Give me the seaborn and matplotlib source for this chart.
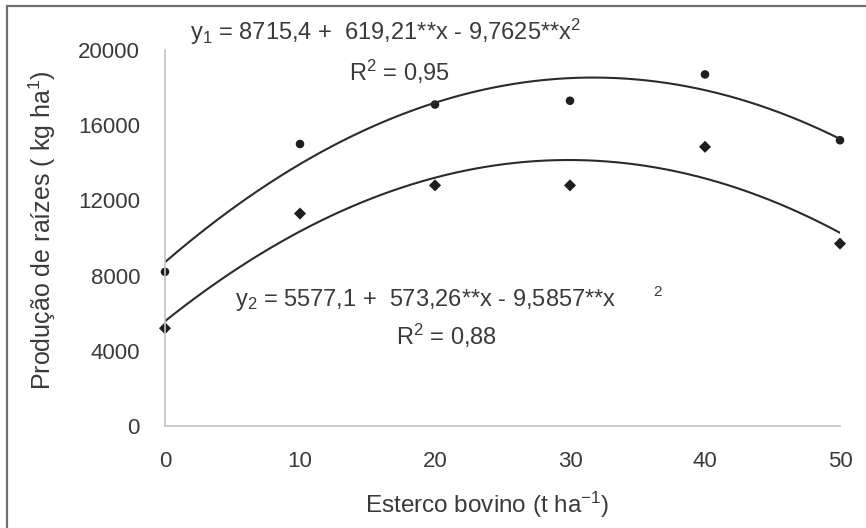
import numpy as np
import pandas as pd
import matplotlib
matplotlib.use("Agg")
import matplotlib.pyplot as plt
from matplotlib.patches import Rectangle
import seaborn as sns

# Dados
doses = [0, 10, 20, 30, 40, 50]
prod_1 = [8200, 15000, 17100, 17300, 18700, 15200]
prod_2 = [5200, 11300, 12800, 12800, 14850, 9700]

# coeficientes das equações ajustadas (b0, b1, b2)
coef_1 = [8715.4, 619.21, -9.7625]
coef_2 = [5577.1, 573.26, -9.5857]

sns.set_theme(style="white")
plt.rcParams['font.family'] = ['Liberation Sans', 'DejaVu Sans']
plt.rcParams['mathtext.fontset'] = 'custom'
plt.rcParams['mathtext.rm'] = 'Liberation Sans'
plt.rcParams['mathtext.it'] = 'Liberation Sans'

txt = '#3a3a3a'
spine = '#c4c4c4'

fig = plt.figure(figsize=(8.66, 5.28), dpi=100)
ax = fig.add_axes([165 / 866, 1 - 426 / 528, 675 / 866, 376 / 528])

pts = pd.DataFrame({'dose': doses * 2,
                    'prod': prod_1 + prod_2,
                    'serie': ['1'] * 6 + ['2'] * 6})

xs = np.linspace(0, 50, 200)
curvas = pd.DataFrame({
    'dose': np.concatenate([xs, xs]),
    'prod': np.concatenate([np.polyval(coef_1[::-1], xs), np.polyval(coef_2[::-1], xs)]),
    'serie': ['1'] * len(xs) + ['2'] * len(xs)})

sns.lineplot(data=curvas, x='dose', y='prod', units='serie', estimator=None,
             color='#2b2b2b', linewidth=1.5, ax=ax)
sns.scatterplot(data=pts, x='dose', y='prod', style='serie', markers={'1': 'o', '2': 'D'},
                color='#1e1e1e', s=38, edgecolor='none', legend=False, ax=ax, clip_on=False)

ax.set_xlim(0, 50)
ax.set_ylim(0, 20000)
ax.set_xticks(doses)
ax.set_yticks([0, 4000, 8000, 12000, 16000, 20000])
for s in ['top', 'right']:
    ax.spines[s].set_visible(False)
for s in ['left', 'bottom']:
    ax.spines[s].set_color(spine)
    ax.spines[s].set_linewidth(1.2)
ax.tick_params(axis='both', direction='out', length=6, width=1.2, color=spine,
               labelsize=16, labelcolor=txt)
ax.tick_params(axis='y', pad=12)
ax.tick_params(axis='x', pad=12)
ax.set_facecolor('white')

ax.set_xlabel('Esterco bovino (t ha$^{-1}$)', fontsize=17.5, color=txt)
ax.xaxis.label.set_verticalalignment('baseline')
ax.xaxis.set_label_coords(0.477, -0.231)
ax.set_ylabel('Produção de raízes ( kg ha$^{1}$)', fontsize=18, color=txt)
ax.yaxis.set_label_coords(-0.158, 0.521)

eq_kw = dict(transform=ax.transAxes, fontsize=17, color=txt, va='baseline')
ax.text(0.037, 1.027, 'y$_1$ = 8715,4 +  619,21**x - 9,7625**x$^2$', ha='left', **eq_kw)
ax.text(0.348, 0.918, 'R$^2$ = 0,95', ha='center', **eq_kw)
ax.text(0.104, 0.319, 'y$_2$ = 5577,1 +  573,26**x - 9,5857**x', ha='left', **eq_kw)
ax.text(0.729, 0.356, '2', transform=ax.transAxes, fontsize=11, color=txt,
        ha='center', va='center')
ax.text(0.417, 0.215, 'R$^2$ = 0,88', ha='center', **eq_kw)

# moldura da figura
fig.patches.append(Rectangle((7 / 866, -0.05), 1.2, (1 - 6 / 528) + 0.05,
                             transform=fig.transFigure, fill=False,
                             edgecolor='#6f6f6f', linewidth=1.6))

fig.savefig('out.png', dpi=100)
